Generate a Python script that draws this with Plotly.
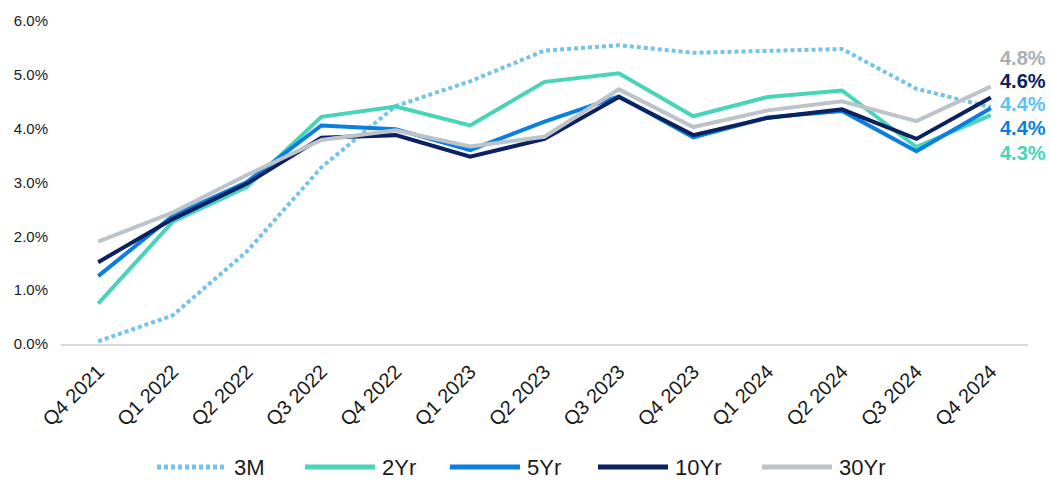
import plotly.graph_objects as go

quarters = ["Q4 2021", "Q1 2022", "Q2 2022", "Q3 2022", "Q4 2022", "Q1 2023", "Q2 2023",
            "Q3 2023", "Q4 2023", "Q1 2024", "Q2 2024", "Q3 2024", "Q4 2024"]
y3m = [0.05, 0.53, 1.72, 3.28, 4.42, 4.88, 5.45, 5.55, 5.41, 5.45, 5.48, 4.74, 4.40]
y2yr = [0.75, 2.27, 2.92, 4.22, 4.41, 4.06, 4.87, 5.03, 4.23, 4.59, 4.71, 3.66, 4.25]
y5yr = [1.26, 2.38, 3.01, 4.06, 3.99, 3.60, 4.13, 4.60, 3.84, 4.21, 4.33, 3.58, 4.38]
y10yr = [1.52, 2.32, 2.98, 3.83, 3.88, 3.48, 3.81, 4.59, 3.88, 4.20, 4.36, 3.81, 4.58]
y30yr = [1.90, 2.44, 3.14, 3.79, 3.97, 3.67, 3.85, 4.73, 4.03, 4.34, 4.51, 4.14, 4.78]

end_labels = ["4.8%", "4.6%", "4.4%", "4.4%", "4.3%"]
label_y = [5.32, 4.88, 4.46, 4.01, 3.55]

series = [
    ("3M", y3m, "#74C3EA", "4px,3px"),
    ("2Yr", y2yr, "#48D4B8", "solid"),
    ("5Yr", y5yr, "#0A7FE0", "solid"),
    ("10Yr", y10yr, "#0B2160", "solid"),
    ("30Yr", y30yr, "#BCC3C9", "solid"),
]

FONT = "Liberation Sans, Arial, sans-serif"
fig = go.Figure()
for name, ys, col, dash in series:
    fig.add_trace(go.Scatter(x=quarters, y=ys, name=name, mode="lines", showlegend=False,
                             line=dict(color=col, width=4, dash=dash)))

label_colors = ["#A9AFB5", "#0B2160", "#5BC2F5", "#0A7FE0", "#48D4B8"]
for txt, yv, c in zip(end_labels, label_y, label_colors):
    fig.add_annotation(x=quarters[-1], y=yv, xref="x", yref="y", text="<b>%s</b>" % txt,
                       showarrow=False, xanchor="left", yanchor="middle", xshift=7,
                       font=dict(size=20, color=c, family=FONT))

# custom legend (long line samples as in the reference)
PL, PW, PT, PH = 61, 967, 16, 328
leg_px = [157, 305, 450, 598, 762]
leg_y = (PT + PH - 469) / PH
for (name, ys, col, dash), px in zip(series, leg_px):
    x0 = (px - PL) / PW
    x1 = (px + 70 - PL) / PW
    fig.add_shape(type="line", xref="paper", yref="paper", x0=x0, x1=x1, y0=leg_y, y1=leg_y,
                  line=dict(color=col, width=5, dash=dash))
    fig.add_annotation(xref="paper", yref="paper", x=(px + 75 - PL) / PW, y=leg_y, text=name,
                       showarrow=False, xanchor="left", yanchor="middle",
                       font=dict(size=22, color="#1a1a1a", family=FONT))

fig.update_layout(
    width=1051, height=482,
    margin=dict(l=PL, r=1051 - PL - PW, t=PT, b=482 - PT - PH),
    plot_bgcolor="white", paper_bgcolor="white",
    font=dict(family=FONT, color="#1a1a1a", size=14),
    showlegend=False,
)
fig.update_xaxes(type="category", range=[-0.5, 12.5], tickangle=-45, showgrid=False,
                 showline=True, linecolor="#D9D9D9", linewidth=2, ticks="",
                 ticklabelstandoff=6, tickfont=dict(size=20))
fig.update_yaxes(range=[0, 6], dtick=1, tickformat=".1f", ticksuffix="%", showgrid=False,
                 zeroline=False, showline=False, ticklabelstandoff=12, tickfont=dict(size=15))

fig.write_html("out.html")
